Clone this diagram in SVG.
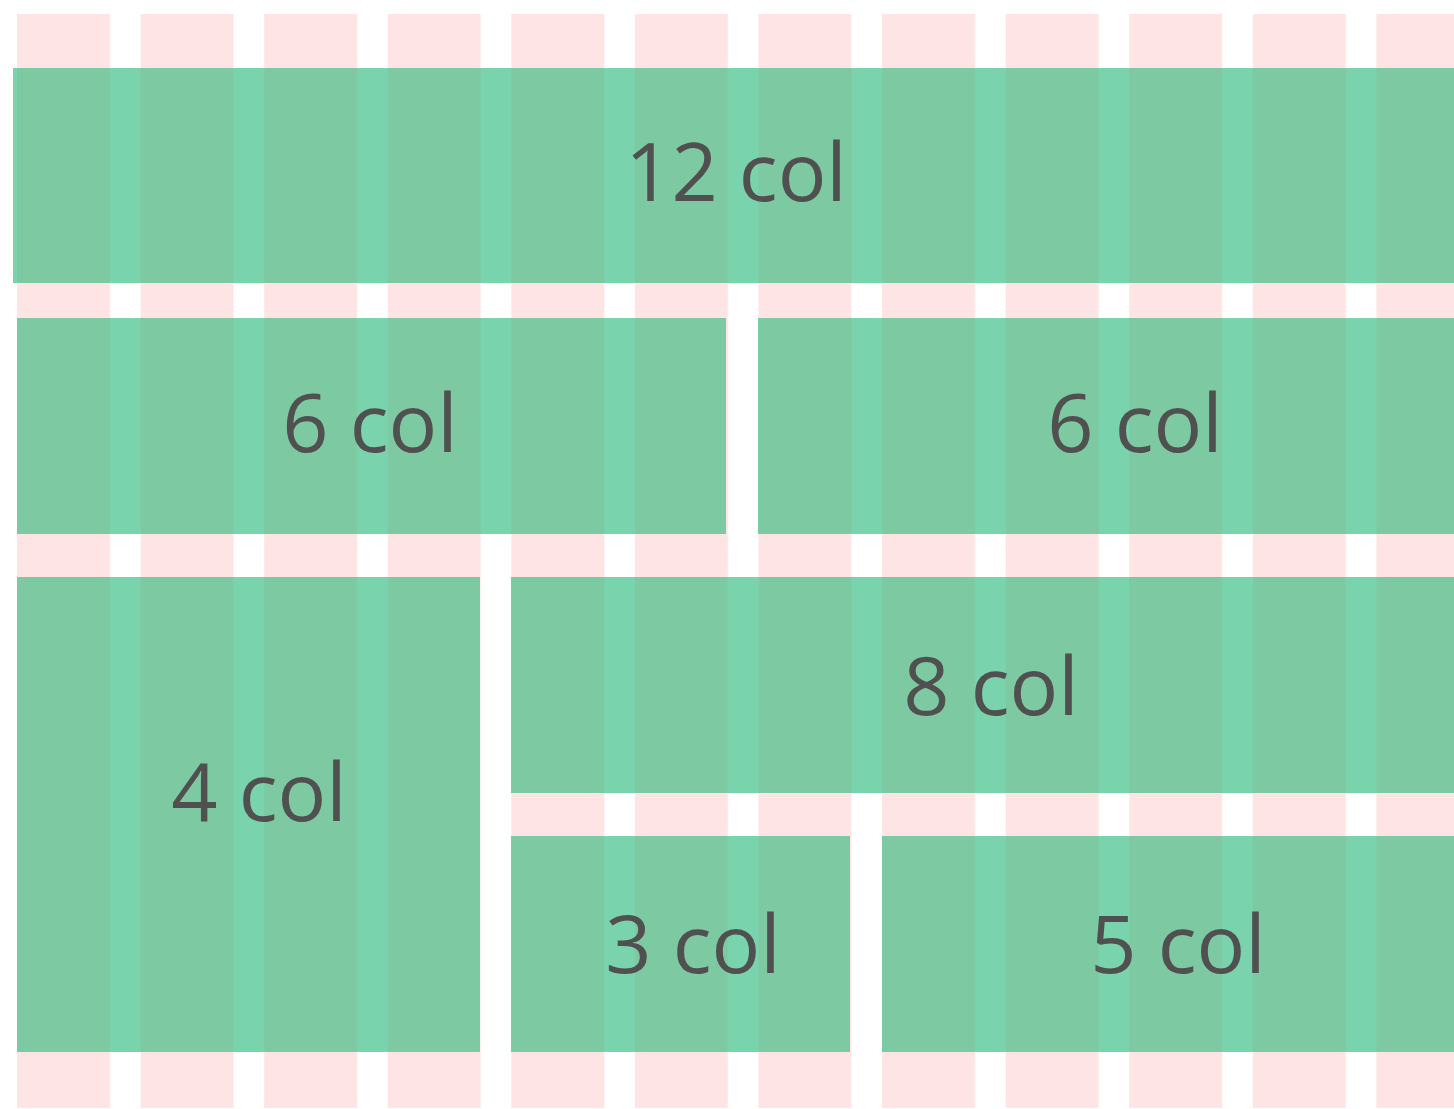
<svg xmlns="http://www.w3.org/2000/svg" width="1454" height="1109" viewBox="0 0 1454 1109">
<defs>
<pattern id="grid" patternUnits="userSpaceOnUse" x="17" y="0" width="123.58" height="1109">
<rect x="0" y="0" width="123.58" height="1109" fill="#79d4ae"/>
<rect x="0" y="0" width="93" height="1109" fill="#7dc9a2"/>
</pattern>
<pattern id="cols" patternUnits="userSpaceOnUse" x="17" y="0" width="123.58" height="1109">
<rect x="0" y="0" width="93" height="1109" fill="#fee4e4"/>
</pattern>
</defs>
<style>
.blk{fill:url(#grid)}
.lbl{font-family:"Open Sans","Liberation Sans",sans-serif;font-size:81px;fill:#505050;text-anchor:middle}
</style>
<rect width="1454" height="1109" fill="#ffffff"/>
<rect id="columns" x="17" y="14" width="1437" height="1094" fill="url(#cols)"/>
<g id="n12">
<rect class="blk" x="13" y="68" width="1441" height="215"/>
<text class="lbl" x="736" y="201">12 col</text>
</g>
<g id="n6a">
<rect class="blk" x="17" y="318" width="709" height="216"/>
<text class="lbl" x="370" y="452">6 col</text>
</g>
<g id="n6b">
<rect class="blk" x="758" y="318" width="696" height="216"/>
<text class="lbl" x="1135" y="452">6 col</text>
</g>
<g id="n4">
<rect class="blk" x="17" y="577" width="463" height="475"/>
<text class="lbl" x="259" y="821">4 col</text>
</g>
<g id="n8">
<rect class="blk" x="511" y="577" width="943" height="216"/>
<text class="lbl" x="991" y="715">8 col</text>
</g>
<g id="n3">
<rect class="blk" x="511" y="836" width="339" height="216"/>
<text class="lbl" x="693" y="973">3 col</text>
</g>
<g id="n5">
<rect class="blk" x="882" y="836" width="572" height="216"/>
<text class="lbl" x="1178" y="973">5 col</text>
</g>
<g id="connectors"/>
</svg>
